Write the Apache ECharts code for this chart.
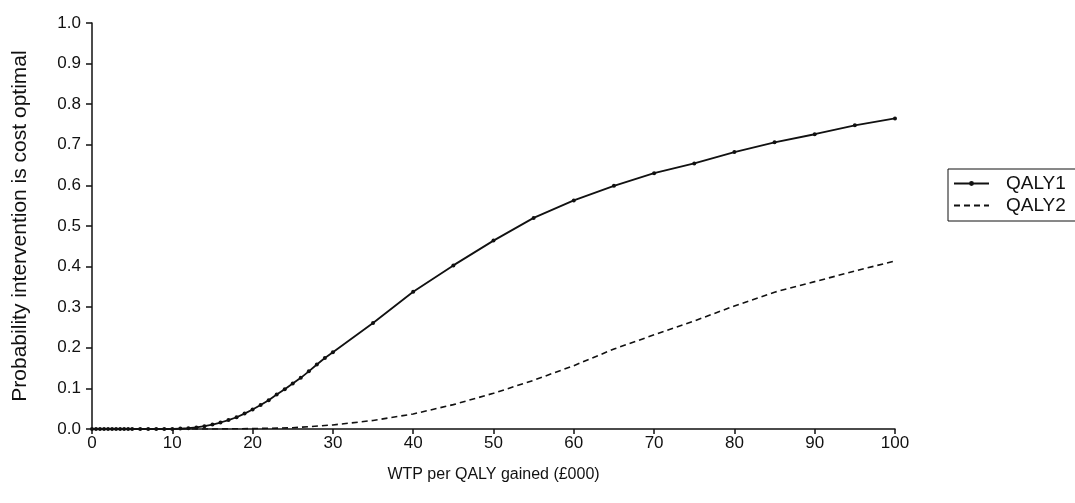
<!DOCTYPE html>
<html>
<head>
<meta charset="utf-8">
<script src="https://cdn.jsdelivr.net/npm/echarts@6/dist/echarts.min.js"></script>
<style>
  html, body { margin: 0; padding: 0; background: #fff; }
  #chart { width: 1075px; height: 503px; }
</style>
</head>
<body>
<div id="chart"></div>
<script>
// Willingness to pay per QALY gained (£000)
const wtpQaly1 = [0, 0.5, 1, 1.5, 2, 2.5, 3, 3.5, 4, 4.5, 5, 6, 7, 8, 9, 10, 11, 12, 13, 14, 15, 16, 17, 18, 19, 20,
  21, 22, 23, 24, 25, 26, 27, 28, 29, 30, 35, 40, 45, 50, 55, 60, 65, 70, 75, 80, 85, 90, 95, 100];
// Probability intervention is cost optimal, QALY1
const probQaly1 = [0, 0, 0, 0, 0, 0, 0, 0, 0, 0, 0, 0, 0, 0, 0, 0, 0.001, 0.002, 0.004, 0.007, 0.011, 0.016, 0.022, 0.029, 0.038, 0.048,
  0.059, 0.071, 0.085, 0.098, 0.112, 0.126, 0.142, 0.159, 0.175, 0.189, 0.261, 0.338, 0.403, 0.464, 0.520, 0.563, 0.599, 0.630, 0.654, 0.682, 0.706, 0.726, 0.748, 0.765];

const wtpQaly2 = [0, 5, 10, 15, 20, 25, 30, 35, 40, 45, 50, 55, 60, 65, 70, 75, 80, 85, 90, 95, 100];
const probQaly2 = [0, 0, 0, 0, 0.001, 0.003, 0.010, 0.021, 0.037, 0.060, 0.088, 0.120, 0.156, 0.197, 0.232, 0.266, 0.303, 0.337, 0.363, 0.389, 0.414];

const seriesNames = ['QALY1', 'QALY2'];
const xTitle = 'WTP per QALY gained (£000)';
const yTitle = 'Probability intervention is cost optimal';

const toPairs = (xs, ys) => xs.map((x, i) => [x, ys[i]]);

const font = 'Liberation Sans, Arial, Helvetica, sans-serif';
const ink = '#111';

const chart = echarts.init(document.getElementById('chart'));
chart.setOption({
  animation: false,
  backgroundColor: '#fff',
  grid: { left: 92, right: 180, top: 23, bottom: 74, containLabel: false },
  legend: {
    left: 948,
    top: 169,
    orient: 'vertical',
    data: [
      { name: seriesNames[0] },
      { name: seriesNames[1], itemStyle: { color: 'rgba(0,0,0,0)', borderColor: 'rgba(0,0,0,0)', borderWidth: 0 } }
    ],
    backgroundColor: '#fff',
    borderColor: ink,
    borderWidth: 1,
    padding: [5, 60, 6, 5],
    itemGap: 3,
    itemWidth: 35,
    itemHeight: 6,
    textStyle: { fontFamily: font, fontSize: 19, color: ink, padding: [0, 0, 0, 12] }
  },
  xAxis: {
    type: 'value',
    min: 0,
    max: 100,
    interval: 10,
    name: xTitle,
    nameLocation: 'middle',
    nameGap: 38,
    nameTextStyle: { fontFamily: font, fontSize: 16, color: ink },
    axisLine: { show: true, lineStyle: { color: ink, width: 1.5 } },
    axisTick: { show: true, inside: false, length: 5, lineStyle: { color: ink, width: 1.5 } },
    axisLabel: { fontFamily: font, fontSize: 17, color: ink, margin: 6 },
    splitLine: { show: false }
  },
  yAxis: {
    type: 'value',
    min: 0,
    max: 1,
    interval: 0.1,
    name: yTitle,
    nameLocation: 'middle',
    nameGap: 61,
    nameRotate: 90,
    nameTextStyle: { fontFamily: font, fontSize: 21, color: ink },
    axisLine: { show: true, lineStyle: { color: ink, width: 1.5 } },
    axisTick: { show: true, inside: false, length: 6, lineStyle: { color: ink, width: 1.5 } },
    axisLabel: { fontFamily: font, fontSize: 17, color: ink, margin: 11, formatter: v => v.toFixed(1) },
    splitLine: { show: false }
  },
  series: [
    {
      name: seriesNames[0],
      type: 'line',
      data: toPairs(wtpQaly1, probQaly1),
      symbol: 'circle',
      symbolSize: 4,
      showAllSymbol: true,
      itemStyle: { color: ink },
      lineStyle: { color: ink, width: 1.8 }
    },
    {
      name: seriesNames[1],
      type: 'line',
      data: toPairs(wtpQaly2, probQaly2),
      symbol: 'none',
      itemStyle: { color: ink },
      lineStyle: { color: ink, width: 1.6, type: [6, 4] }
    }
  ]
});
</script>
</body>
</html>
